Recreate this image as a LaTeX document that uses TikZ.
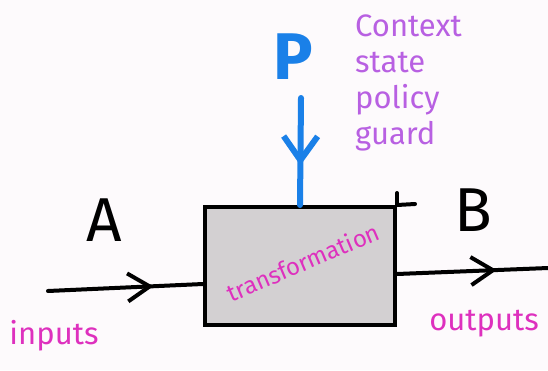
\documentclass[tikz,border=0pt]{standalone}
\usepackage{fontspec}
\setmainfont{Fira Sans}
\usepackage{xcolor}
\usepackage{tikz}
\usetikzlibrary{arrows.meta,decorations.markings,positioning}
\definecolor{paper}{RGB}{253,250,252}
\definecolor{boxgray}{RGB}{211,208,210}
\definecolor{penblue}{RGB}{26,128,232}
\definecolor{penpink}{RGB}{222,48,190}
\definecolor{penviolet}{RGB}{184,96,226}
\tikzset{
  tbox/.style={draw=black, line width=4pt, fill=boxgray, minimum width=190pt, minimum height=118pt, inner sep=0pt},
  bigletter/.style={font=\fontsize{62}{62}\selectfont, inner sep=0pt},
  pinklbl/.style={penpink, font=\fontsize{31}{31}\selectfont, inner sep=0pt},
  midarrow/.style 2 args={decoration={markings, mark=at position #1 with {\arrow{Straight Barb[length=#2pt, width=28pt, line width=4pt]}}}, postaction=decorate},
  flow/.style={line width=4pt, line cap=round}
}
\begin{document}
\begin{tikzpicture}[x=1pt, y=-1pt]
\fill[paper] (0,0) rectangle (548,370);
\useasboundingbox (0,0) rectangle (548,370);

% the box
\node[tbox] (trans) at (300,266) {};
\node[pinklbl, rotate=23, font=\fontsize{24}{24}\selectfont] (tlbl) at (303,262) {transformation};
\draw[flow] (trans.north east) -- ++(18,-1);
\draw[flow] (trans.north east) -- ++(0,-12);

% control on top
\node[bigletter, penblue, font=\fontsize{66}{66}\selectfont\bfseries] (ctl) at (293,57) {P};
\coordinate (ctltail) at (301,98);
\draw[flow, penblue, line width=6pt, decoration={markings, mark=at position 0.63 with {\arrow{Straight Barb[length=24pt, width=34pt, line width=6pt]}}}, postaction=decorate] (ctltail) -- (trans.north);
\node[penviolet, font=\fontsize{31}{36}\selectfont, align=left, inner sep=0pt, anchor=north west] (ctx) at (355,15)
  {Context\\state\\policy\\guard};

% input
\coordinate (intail) at (48,291);
\draw[flow, midarrow={0.68}{22}] (intail) -- (trans.west |- 0,284);
\node[bigletter] (inA) at (104,220) {A};
\node[pinklbl] (inlbl) at (54,336) {inputs};

% output
\coordinate (outhead) at (548,268);
\draw[flow, midarrow={0.66}{22}] (trans.east |- 0,274) -- (outhead);
\node[bigletter] (outB) at (473,210) {B};
\node[pinklbl] (outlbl) at (484,324) {outputs};
\end{tikzpicture}
\end{document}
